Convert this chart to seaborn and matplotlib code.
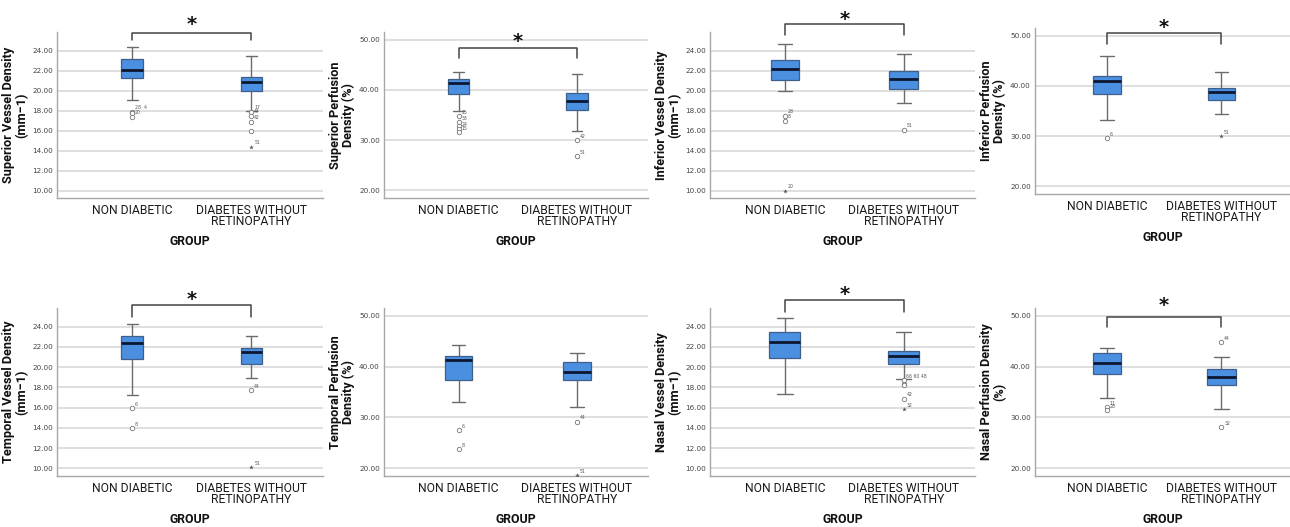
import matplotlib
matplotlib.use("Agg")
import matplotlib.pyplot as plt
import matplotlib.transforms as mtransforms
import pandas as pd
import seaborn as sns

# --- data ---
groups = ["NON DIABETIC", "DIABETES WITHOUT\nRETINOPATHY"]

# five-number summaries: lower whisker, Q1, median, Q3, upper whisker
sup_vd_non = [19.1, 21.3, 22.1, 23.2, 24.4]
sup_vd_dwr = [18.0, 20.0, 20.9, 21.4, 23.5]
sup_pd_non = [35.8, 39.1, 41.3, 42.1, 43.5]
sup_pd_dwr = [31.8, 35.9, 37.8, 39.4, 43.1]
inf_vd_non = [20.0, 21.1, 22.2, 23.1, 24.7]
inf_vd_dwr = [18.8, 20.2, 21.2, 22.0, 23.7]
inf_pd_non = [33.3, 38.4, 41.0, 42.0, 46.0]
inf_pd_dwr = [34.5, 37.1, 38.7, 39.5, 42.8]
tmp_vd_non = [17.3, 20.8, 22.4, 23.1, 24.3]
tmp_vd_dwr = [18.9, 20.3, 21.5, 21.9, 23.1]
tmp_pd_non = [33.0, 37.4, 41.2, 42.0, 44.3]
tmp_pd_dwr = [32.0, 37.4, 39.0, 40.9, 42.7]
nas_vd_non = [17.4, 20.9, 22.5, 23.5, 24.9]
nas_vd_dwr = [18.8, 20.3, 21.1, 21.6, 23.5]
nas_pd_non = [33.9, 38.5, 40.7, 42.6, 43.7]
nas_pd_dwr = [31.6, 36.4, 38.0, 39.5, 41.8]

# outliers: (group index, value, case label, kind) - "o" outlier, "*" extreme
sup_vd_out = [(0, 17.9, "28  4", "o"), (0, 17.8, "", "o"), (0, 17.4, "20", "o"),
              (1, 17.9, "17", "o"), (1, 17.5, "44", "o"), (1, 16.9, "42", "o"),
              (1, 16.0, "", "o"), (1, 14.4, "51", "*")]
sup_pd_out = [(0, 34.8, "25", "o"), (0, 33.6, "33", "o"), (0, 32.8, "", "o"),
              (0, 32.3, "24", "o"), (0, 31.6, "15", "o"),
              (1, 30.0, "42", "o"), (1, 26.9, "51", "o")]
inf_vd_out = [(0, 17.5, "28", "o"), (0, 17.0, "8", "o"), (0, 10.0, "20", "*"),
              (1, 16.1, "51", "o")]
inf_pd_out = [(0, 29.7, "6", "o"), (1, 30.0, "51", "*")]
tmp_vd_out = [(0, 16.0, "6", "o"), (0, 14.0, "8", "o"),
              (1, 17.7, "44", "o"), (1, 10.1, "51", "*")]
tmp_pd_out = [(0, 27.6, "6", "o"), (0, 23.8, "8", "o"),
              (1, 29.2, "44", "o"), (1, 18.6, "51", "*")]
nas_vd_out = [(1, 18.7, "66 60 48", "o"), (1, 18.3, "", "o"), (1, 18.2, "", "o"),
              (1, 16.9, "42", "o"), (1, 15.9, "32", "*")]
nas_pd_out = [(0, 32.1, "11", "o"), (0, 31.4, "28", "o"),
              (1, 44.8, "44", "o"), (1, 28.2, "32", "o")]

ylabels = ["Superior Vessel Density\n(mm\u22121)", "Superior Perfusion\nDensity (%)",
           "Inferior Vessel Density\n(mm\u22121)", "Inferior Perfusion\nDensity (%)",
           "Temporal Vessel Density\n(mm\u22121)", "Temporal Perfusion\nDensity (%)",
           "Nasal Vessel Density\n(mm\u22121)", "Nasal Perfusion Density\n(%)"]
significant = [True, True, True, True, True, False, True, True]

panels = [(sup_vd_non, sup_vd_dwr, sup_vd_out), (sup_pd_non, sup_pd_dwr, sup_pd_out),
          (inf_vd_non, inf_vd_dwr, inf_vd_out), (inf_pd_non, inf_pd_dwr, inf_pd_out),
          (tmp_vd_non, tmp_vd_dwr, tmp_vd_out), (tmp_pd_non, tmp_pd_dwr, tmp_pd_out),
          (nas_vd_non, nas_vd_dwr, nas_vd_out), (nas_pd_non, nas_pd_dwr, nas_pd_out)]

# --- layout (pixel boxes of each plot area) ---
W, H = 1290, 527
col_left = [57, 384, 710, 1035]
col_right = [323, 648, 975, 1290]
row_top = [[32, 32, 32, 28], [308, 308, 308, 308]]
row_bot = [[198, 198, 198, 194], [476, 476, 476, 476]]
box_w = [0.18, 0.18, 0.24, 0.24, 0.18, 0.23, 0.26, 0.25]
# bracket leg bottom, bracket top, star baseline (axes fraction)
brackets = [(0.952, 0.994, 1.01), (0.843, 0.904, 0.912), (0.982, 1.048, 1.04),
            (0.904, 0.97, 0.972), (0.946, 1.018, 1.02), None,
            (0.976, 1.048, 1.05), (0.887, 0.946, 0.984)]

BLUE = "#4a8fe0"
EDGE = "#3d5f8a"
GRAYLINE = "#6b6b6b"

sns.set_style("white")
plt.rcParams["font.family"] = ["Roboto", "DejaVu Sans"]

fig = plt.figure(figsize=(W / 100, H / 100), dpi=100)

for i, (non, dwr, outs) in enumerate(panels):
    r, c = divmod(i, 4)
    top, bot = row_top[r][c], row_bot[r][c]
    ax = fig.add_axes([col_left[c] / W, (H - bot) / H,
                       (col_right[c] - col_left[c]) / W, (bot - top) / H])

    df = pd.DataFrame({"group": [groups[0]] * 5 + [groups[1]] * 5,
                       "value": non + dwr})
    sns.boxplot(data=df, x="group", y="value", order=groups, whis=(0, 100),
                width=box_w[i], showfliers=False, color=BLUE, saturation=1,
                linecolor=EDGE, linewidth=0.9,
                medianprops=dict(color="#0d1630", linewidth=2.0),
                whiskerprops=dict(color=GRAYLINE, linewidth=1.0),
                capprops=dict(color=GRAYLINE, linewidth=1.0), ax=ax)

    odf = pd.DataFrame(outs, columns=["gi", "value", "label", "kind"])
    odf["group"] = [groups[g] for g in odf["gi"]]
    circ = odf[odf["kind"] == "o"]
    ext = odf[odf["kind"] == "*"]
    if len(circ):
        sns.stripplot(data=circ, x="group", y="value", order=groups, jitter=False,
                      marker="o", size=3.2, color="white", edgecolor="#777777",
                      linewidth=0.6, ax=ax)
    if len(ext):
        sns.stripplot(data=ext, x="group", y="value", order=groups, jitter=False,
                      marker="*", size=3.5, color="#555555", ax=ax)
    for _, row in odf.iterrows():
        if row["label"]:
            ax.annotate(row["label"], (row["gi"], row["value"]), xytext=(2, 1.5),
                        textcoords="offset points", fontsize=3.3, color="#555555",
                        family="DejaVu Sans")

    vessel = i % 2 == 0
    if vessel:
        ax.set_ylim(9.25, 25.85)
        ax.set_yticks([10, 12, 14, 16, 18, 20, 22, 24])
    else:
        ax.set_ylim(18.5, 51.5)
        ax.set_yticks([20, 30, 40, 50])
    ax.yaxis.set_major_formatter(matplotlib.ticker.FormatStrFormatter("%.2f"))
    ax.set_xlim(-0.63, 1.6)

    ax.yaxis.grid(True, color="#dcdcdc", linewidth=1.3)
    ax.set_axisbelow(True)
    for s in ["top", "right"]:
        ax.spines[s].set_visible(False)
    for s in ["left", "bottom"]:
        ax.spines[s].set_color("#a8a8a8")
        ax.spines[s].set_linewidth(1.0)
    ax.tick_params(axis="both", length=0)
    ax.tick_params(axis="y", labelsize=5.2, labelcolor="#444444", pad=3)
    ax.tick_params(axis="x", labelsize=8.7, labelcolor="#1a1a1a", pad=4)
    for t in ax.get_yticklabels():
        t.set_family("DejaVu Sans")
    for t in ax.get_xticklabels():
        t.set_linespacing(0.88)

    ax.set_ylabel(ylabels[i], fontsize=9.2, fontweight="bold", linespacing=0.95,
                  labelpad=3, color="#111111")
    ax.set_xlabel("GROUP", fontsize=8.8, fontweight="bold", labelpad=5, color="#111111")

    if significant[i]:
        leg, btop, sy = brackets[i]
        trans = mtransforms.blended_transform_factory(ax.transData, ax.transAxes)
        ax.plot([0, 0, 1, 1], [leg, btop, btop, leg], transform=trans,
                clip_on=False, color="#444444", linewidth=1.1)
        ax.text(0.5, sy, "*", transform=trans, ha="center", va="baseline",
                fontsize=14, fontweight="bold", color="#111111", family="DejaVu Sans")

fig.savefig("out.png", dpi=100)
